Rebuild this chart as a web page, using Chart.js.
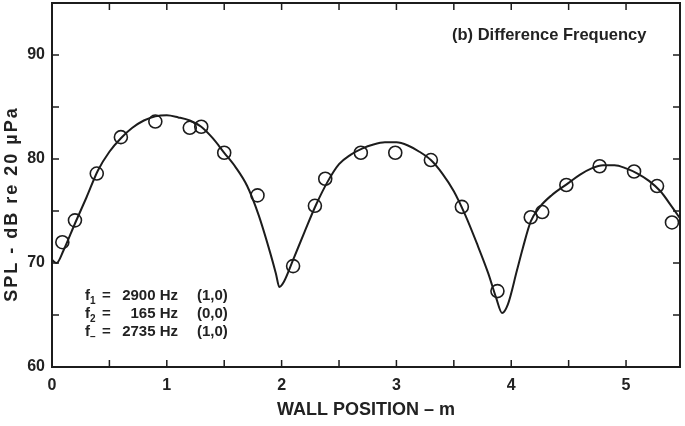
<!DOCTYPE html>
<html>
<head>
<meta charset="utf-8">
<script src="https://cdn.jsdelivr.net/npm/chart.js@4"></script>
<style>
  html, body { margin: 0; padding: 0; background: #fff; }
  #wrap { width: 685px; height: 426px; position: relative; }
</style>
</head>
<body>
<div id="wrap"><canvas id="c" width="685" height="426"></canvas></div>
<script>
// Theoretical curve
const curveX = [0, 0.04, 0.1, 0.2, 0.3, 0.4, 0.5, 0.6, 0.7, 0.8, 0.9, 1.0, 1.1, 1.2, 1.3, 1.4, 1.5, 1.6, 1.7, 1.8, 1.9, 1.95, 1.98, 2.02, 2.1, 2.2, 2.3, 2.4, 2.5, 2.6, 2.7, 2.8, 2.9, 3.0, 3.1, 3.2, 3.3, 3.4, 3.5, 3.6, 3.7, 3.8, 3.87, 3.92, 3.97, 4.05, 4.1, 4.17, 4.25, 4.35, 4.5, 4.6, 4.7, 4.8, 4.9, 5.0, 5.1, 5.2, 5.3, 5.4, 5.47];
const curveY = [70.3, 70.0, 71.2, 73.8, 76.3, 78.9, 80.7, 82.0, 83.0, 83.7, 84.1, 84.2, 84.0, 83.7, 83.1, 82.0, 80.6, 79.2, 77.4, 74.6, 71.0, 69.0, 67.7, 68.2, 70.3, 73.0, 75.6, 77.8, 79.5, 80.4, 81.0, 81.4, 81.6, 81.6, 81.3, 80.7, 79.9, 78.6, 76.9, 74.6, 71.9, 69.0, 66.6, 65.2, 66.0, 69.3, 71.4, 74.0, 75.4, 76.5, 77.7, 78.5, 79.1, 79.4, 79.4, 79.1, 78.6, 77.9, 76.9, 75.4, 74.3];

// Measured points (open circles)
const measX = [0.09, 0.2, 0.39, 0.6, 0.9, 1.2, 1.3, 1.5, 1.79, 2.1, 2.29, 2.38, 2.69, 2.99, 3.3, 3.57, 3.88, 4.17, 4.27, 4.48, 4.77, 5.07, 5.27, 5.4];
const measY = [72.0, 74.1, 78.6, 82.1, 83.6, 83.0, 83.1, 80.6, 76.5, 69.7, 75.5, 78.1, 80.6, 80.6, 79.9, 75.4, 67.3, 74.4, 74.9, 77.5, 79.3, 78.8, 77.4, 73.9];

// Tick labels
const xTickLabels = [0, 1, 2, 3, 4, 5];
const yTickLabels = [60, 70, 80, 90];

const titleText = "(b) Difference Frequency";
const xTitle = "WALL POSITION \u2013 m";
const yTitle = "SPL - dB re 20 \u00B5Pa";
const legendRows = [
  { sub: "1", num: "2900", mode: "(1,0)" },
  { sub: "2", num: "165",  mode: "(0,0)" },
  { sub: "\u2013", num: "2735", mode: "(1,0)" }
];

const INK = '#1c1c1c';
const TXT = '#222';
const FONT = "'Liberation Sans', Arial, Helvetica, sans-serif";
const NOPAD = () => ({ left: 0, top: 0, right: 0, bottom: 0 });

const framePlugin = {
  id: 'frame',
  afterDraw(chart) {
    const { ctx, chartArea: a, scales } = chart;
    const xs = scales.x, ys = scales.y;
    ctx.save();
    ctx.strokeStyle = INK;
    ctx.lineWidth = 2;
    ctx.strokeRect(a.left, a.top, a.right - a.left, a.bottom - a.top);
    ctx.lineWidth = 1.5;
    const tl = 7;
    ctx.beginPath();
    xs.ticks.forEach(t => {
      const v = t.value;
      if (v <= xs.min + 1e-6 || v >= xs.max - 1e-6) return;
      const px = xs.getPixelForValue(v);
      ctx.moveTo(px, a.bottom); ctx.lineTo(px, a.bottom - tl);
      ctx.moveTo(px, a.top); ctx.lineTo(px, a.top + tl);
    });
    ys.ticks.forEach(t => {
      const v = t.value;
      if (v <= ys.min + 1e-6 || v >= ys.max - 1e-6) return;
      const py = ys.getPixelForValue(v);
      ctx.moveTo(a.left, py); ctx.lineTo(a.left + tl, py);
      ctx.moveTo(a.right, py); ctx.lineTo(a.right - tl, py);
    });
    ctx.stroke();

    // Texts
    ctx.fillStyle = TXT;
    ctx.textBaseline = 'middle';
    ctx.font = "bold 16.5px " + FONT;
    ctx.textAlign = 'left';
    ctx.fillText(titleText, 452, 35);

    // x title
    ctx.font = "bold 18px " + FONT;
    ctx.textAlign = 'center';
    ctx.fillText(xTitle, (a.left + a.right) / 2, 410);

    // y title
    ctx.save();
    ctx.translate(12, 204);
    ctx.rotate(-Math.PI / 2);
    ctx.font = "bold 18px " + FONT;
    ctx.letterSpacing = "2px";
    ctx.textAlign = 'center';
    ctx.fillText(yTitle, 0, 0);
    ctx.restore();

    // legend block
    const rowY = [296, 314, 332];
    legendRows.forEach((r, i) => {
      const y = rowY[i];
      ctx.font = "bold 15px " + FONT;
      ctx.textAlign = 'left';
      ctx.fillText("f", 85, y);
      ctx.font = "bold 10px " + FONT;
      ctx.fillText(r.sub, 90, y + 5);
      ctx.font = "bold 15px " + FONT;
      ctx.fillText("=", 102, y);
      ctx.textAlign = 'right';
      ctx.fillText(r.num + " Hz", 178, y);
      ctx.textAlign = 'left';
      ctx.fillText(r.mode, 197, y);
    });
    ctx.restore();
  }
};

new Chart(document.getElementById('c'), {
  type: 'scatter',
  data: {
    datasets: [
      {
        type: 'line',
        data: curveX.map((x, i) => ({ x, y: curveY[i] })),
        borderColor: INK,
        borderWidth: 2,
        pointRadius: 0,
        fill: false,
        cubicInterpolationMode: 'monotone',
        order: 2
      },
      {
        data: measX.map((x, i) => ({ x, y: measY[i] })),
        showLine: false,
        pointStyle: 'circle',
        pointRadius: 6.5,
        pointBorderWidth: 1.6,
        pointBorderColor: INK,
        pointBackgroundColor: 'rgba(0,0,0,0)',
        order: 1
      }
    ]
  },
  options: {
    responsive: false,
    animation: false,
    devicePixelRatio: 1,
    layout: { autoPadding: false, padding: { left: 0, top: 3, right: 5, bottom: 0 } },
    plugins: { legend: { display: false }, tooltip: { enabled: false }, title: { display: false } },
    scales: {
      x: {
        type: 'linear',
        min: 0, max: 5.47,
        grid: { display: false, drawTicks: false },
        border: { display: false },
        afterBuildTicks: s => {
          const t = [];
          for (let k = 0; k * 0.5 <= s.max + 1e-9; k++) t.push({ value: k * 0.5 });
          s.ticks = t;
        },
        ticks: {
          padding: 9,
          color: TXT,
          font: { family: FONT, size: 16, weight: 'bold' },
          maxRotation: 0,
          autoSkip: false,
          callback: v => xTickLabels.find(l => Math.abs(l - v) < 1e-6) !== undefined ? String(Math.round(v)) : ''
        },
        afterFit: s => { s.height = 59; s.paddingLeft = 0; s.paddingRight = 0; s.paddingTop = 0; s.paddingBottom = 0; s.getPadding = NOPAD; }
      },
      y: {
        type: 'linear',
        min: 60, max: 95,
        grid: { display: false, drawTicks: false },
        border: { display: false },
        ticks: {
          stepSize: 5,
          padding: 7,
          color: TXT,
          font: { family: FONT, size: 16, weight: 'bold' },
          autoSkip: false,
          callback: v => yTickLabels.includes(v) ? String(v) : ''
        },
        afterFit: s => { s.width = 52; s.paddingLeft = 0; s.paddingRight = 0; s.paddingTop = 0; s.paddingBottom = 0; s.getPadding = NOPAD; }
      }
    }
  },
  plugins: [framePlugin]
});
</script>
</body>
</html>
